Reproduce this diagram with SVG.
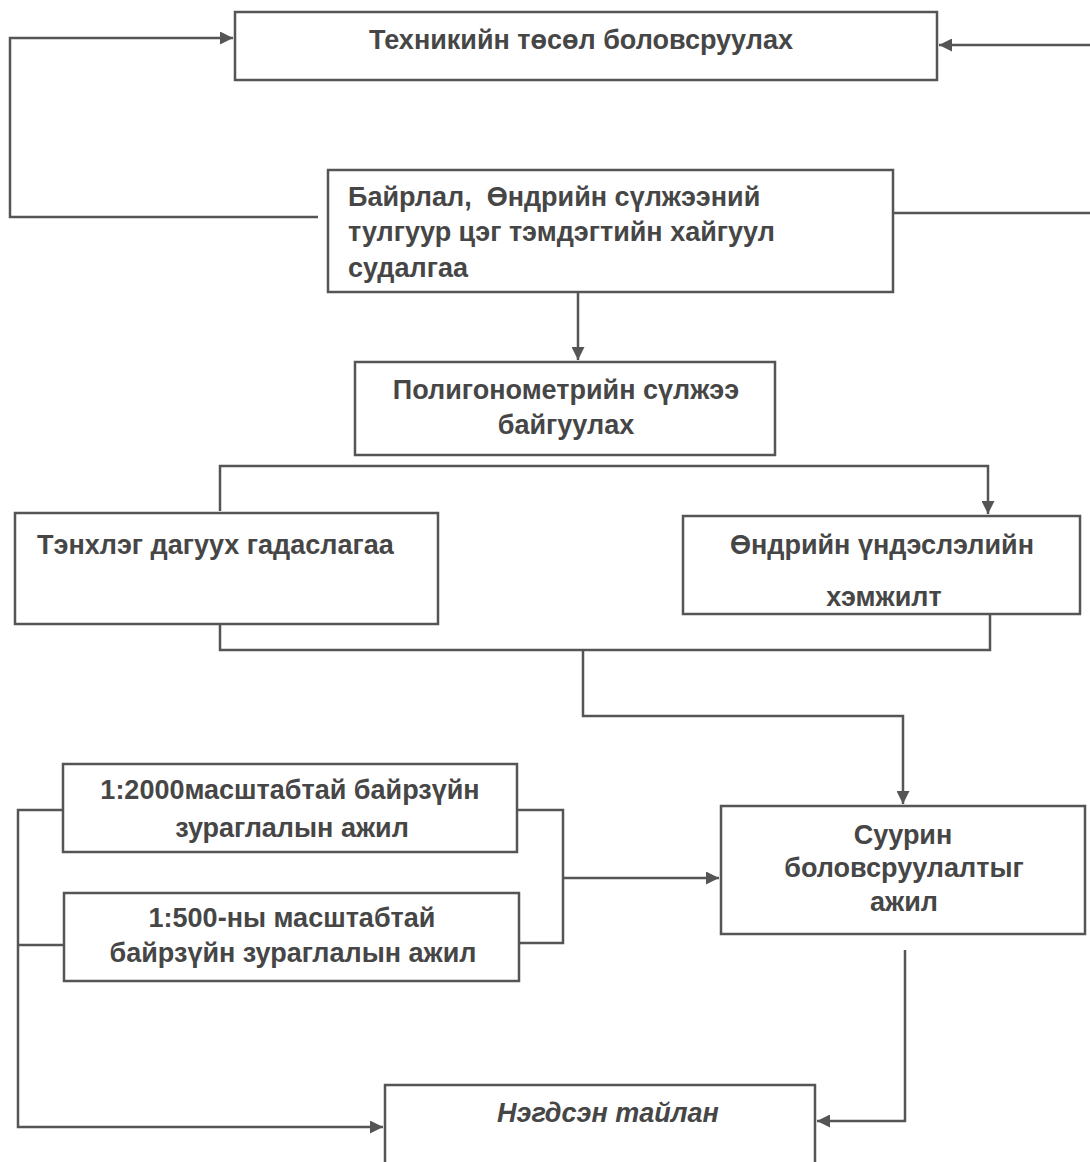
<svg xmlns="http://www.w3.org/2000/svg" width="1090" height="1162" viewBox="0 0 1090 1162">
<style>
.box{fill:#fff;stroke:#555;stroke-width:2.5}
.ln{fill:none;stroke:#555;stroke-width:2.5}
text{font-family:"Liberation Sans",Arial,sans-serif;font-size:27px;font-weight:bold;fill:#464646}
.c{text-anchor:middle}
.pre{white-space:pre}
</style>
<defs>
<marker id="ah" viewBox="0 0 12 12" refX="12" refY="6" markerWidth="13" markerHeight="13" markerUnits="userSpaceOnUse" orient="auto">
<path d="M0,0 L12,6 L0,12 z" fill="#555"/>
</marker>
</defs>
<rect width="1090" height="1162" fill="#fff"/>
<g id="connectors">
<path class="ln" d="M318,217 H10 V38 H233" marker-end="url(#ah)"/>
<path class="ln" d="M1090,45 H939" marker-end="url(#ah)"/>
<path class="ln" d="M893,213 H1090"/>
<path class="ln" d="M578,292 V360" marker-end="url(#ah)"/>
<path class="ln" d="M220,511 V466 H988 V514" marker-end="url(#ah)"/>
<path class="ln" d="M220,624 V650 H990 V600"/>
<path class="ln" d="M583,650 V716 H903 V804" marker-end="url(#ah)"/>
<path class="ln" d="M517,810 H563 V943 H519"/>
<path class="ln" d="M563,878 H719" marker-end="url(#ah)"/>
<path class="ln" d="M63,810 H18 V1127 H383" marker-end="url(#ah)"/>
<path class="ln" d="M64,945 H18"/>
<path class="ln" d="M905,950 V1121 H817" marker-end="url(#ah)"/>
</g>
<g id="n1"><rect class="box" x="235" y="12" width="702" height="68"/><text class="c" x="581" y="49">Техникийн төсөл боловсруулах</text></g>
<g id="n2"><rect class="box" x="328" y="170" width="565" height="122"/>
<text class="pre" x="348" y="206" xml:space="preserve">Байрлал,  Өндрийн сүлжээний</text>
<text x="348" y="241">тулгуур цэг тэмдэгтийн хайгуул</text>
<text x="348" y="277">судалгаа</text></g>
<g id="n3"><rect class="box" x="355" y="362" width="420" height="93"/>
<text class="c" x="566" y="399">Полигонометрийн сүлжээ</text>
<text class="c" x="566" y="434">байгуулах</text></g>
<g id="n4"><rect class="box" x="15" y="513" width="423" height="111"/>
<text x="37" y="554">Тэнхлэг дагуух гадаслагаа</text></g>
<g id="n5"><rect class="box" x="683" y="516" width="397" height="98"/>
<text class="c" x="882" y="554">Өндрийн үндэслэлийн</text>
<text class="c" x="884" y="606">хэмжилт</text></g>
<g id="n6"><rect class="box" x="721" y="806" width="364" height="128"/>
<text class="c" x="903" y="844">Суурин</text>
<text class="c" x="904" y="877">боловсруулалтыг</text>
<text class="c" x="904" y="911">ажил</text></g>
<g id="n7"><rect class="box" x="63" y="764" width="454" height="88"/>
<text class="c" x="290" y="799">1:2000масштабтай байрзүйн</text>
<text class="c" x="292" y="837">зураглалын ажил</text></g>
<g id="n8"><rect class="box" x="64" y="893" width="455" height="88"/>
<text class="c" x="292" y="927">1:500-ны масштабтай</text>
<text class="c" x="293" y="962">байрзүйн зураглалын ажил</text></g>
<g id="n9"><rect class="box" x="385" y="1085" width="430" height="90"/>
<text class="c" x="608" y="1122" font-style="italic">Нэгдсэн тайлан</text></g>
</svg>
